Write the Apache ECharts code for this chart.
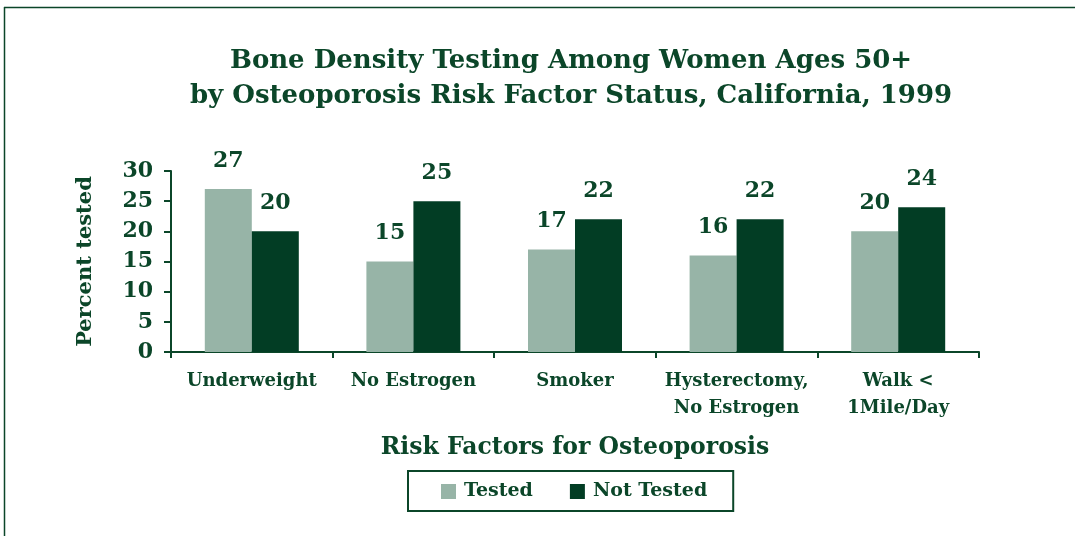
<!DOCTYPE html>
<html>
<head>
<meta charset="utf-8">
<script src="https://cdn.jsdelivr.net/npm/echarts@6/dist/echarts.min.js"></script>
<style>
  html, body { margin: 0; padding: 0; background: #fff; }
  #chart { width: 1075px; height: 536px; }
</style>
</head>
<body>
<div id="chart"></div>
<script>
var categories = ['Underweight', 'No Estrogen', 'Smoker', 'Hysterectomy,\nNo Estrogen', 'Walk <\n1Mile/Day'];
var tested = [27, 15, 17, 16, 20];
var notTested = [20, 25, 22, 22, 24];
var yTicks = [0, 5, 10, 15, 20, 25, 30];

var ink = '#0b4629';
var font = 'DejaVu Serif';

var chart = echarts.init(document.getElementById('chart'));
var option = {
    backgroundColor: '#fff',
    animation: false,
    title: {
        text: 'Bone Density Testing Among Women Ages 50+\nby Osteoporosis Risk Factor Status, California, 1999',
        left: 566,
        top: 39,
        textAlign: 'center',
        textStyle: {
            fontFamily: font,
            fontWeight: 'bold',
            fontSize: 26,
            lineHeight: 35,
            color: ink
        }
    },
    graphic: [
        // frame: top and left edges only
        { type: 'line', shape: { x1: 4, y1: 7.5, x2: 1075, y2: 7.5 }, style: { stroke: '#0b4629', lineWidth: 1.5 } },
        { type: 'line', shape: { x1: 4.5, y1: 7, x2: 4.5, y2: 536 }, style: { stroke: '#0b4629', lineWidth: 1.5 } }
    ],
    legend: {
        data: ['Tested', 'Not Tested'],
        left: 408,
        top: 471,
        orient: 'horizontal',
        itemWidth: 15,
        itemHeight: 15,
        itemGap: 37,
        padding: [11, 26, 10, 33],
        borderColor: ink,
        borderWidth: 2,
        icon: 'rect',
        textStyle: {
            fontFamily: font,
            fontWeight: 'bold',
            fontSize: 19,
            color: ink,
            padding: [0, 0, 0, 3]
        }
    },
    grid: {
        left: 171,
        right: 96,
        top: 171,
        bottom: 184,
        containLabel: false
    },
    xAxis: {
        type: 'category',
        data: categories,
        name: 'Risk Factors for Osteoporosis',
        nameLocation: 'middle',
        nameGap: 84,
        nameTextStyle: {
            fontFamily: font,
            fontWeight: 'bold',
            fontSize: 23.5,
            color: ink
        },
        axisLine: { lineStyle: { color: ink, width: 2 } },
        axisTick: { show: true, length: 6, lineStyle: { color: ink, width: 2 } },
        axisLabel: {
            fontFamily: font,
            fontWeight: 'bold',
            fontSize: 18,
            lineHeight: 27,
            color: ink,
            margin: 16,
            interval: 0
        }
    },
    yAxis: {
        type: 'value',
        min: 0,
        max: 30,
        interval: 5,
        name: 'Percent tested',
        nameLocation: 'middle',
        nameRotate: 90,
        nameGap: 75,
        nameTextStyle: {
            fontFamily: font,
            fontWeight: 'bold',
            fontSize: 21,
            color: ink
        },
        axisLine: { show: true, lineStyle: { color: ink, width: 2 } },
        axisTick: { show: true, length: 7, lineStyle: { color: ink, width: 2 } },
        splitLine: { show: false },
        axisLabel: {
            fontFamily: font,
            fontWeight: 'bold',
            fontSize: 22,
            color: ink,
            margin: 18,
            formatter: function (v) { return yTicks.indexOf(v) >= 0 ? String(v) : ''; }
        }
    },
    series: [
        {
            name: 'Tested',
            type: 'bar',
            data: tested,
            barWidth: 47,
            barGap: '0%',
            itemStyle: { color: '#97b4a7' },
            label: {
                show: true,
                position: 'top',
                distance: 17,
                fontFamily: font,
                fontWeight: 'bold',
                fontSize: 22,
                color: ink
            }
        },
        {
            name: 'Not Tested',
            type: 'bar',
            data: notTested,
            barWidth: 47,
            barGap: '0%',
            itemStyle: { color: '#023d24' },
            label: {
                show: true,
                position: 'top',
                distance: 17,
                fontFamily: font,
                fontWeight: 'bold',
                fontSize: 22,
                color: ink
            }
        }
    ]
};
chart.setOption(option);
</script>
</body>
</html>
